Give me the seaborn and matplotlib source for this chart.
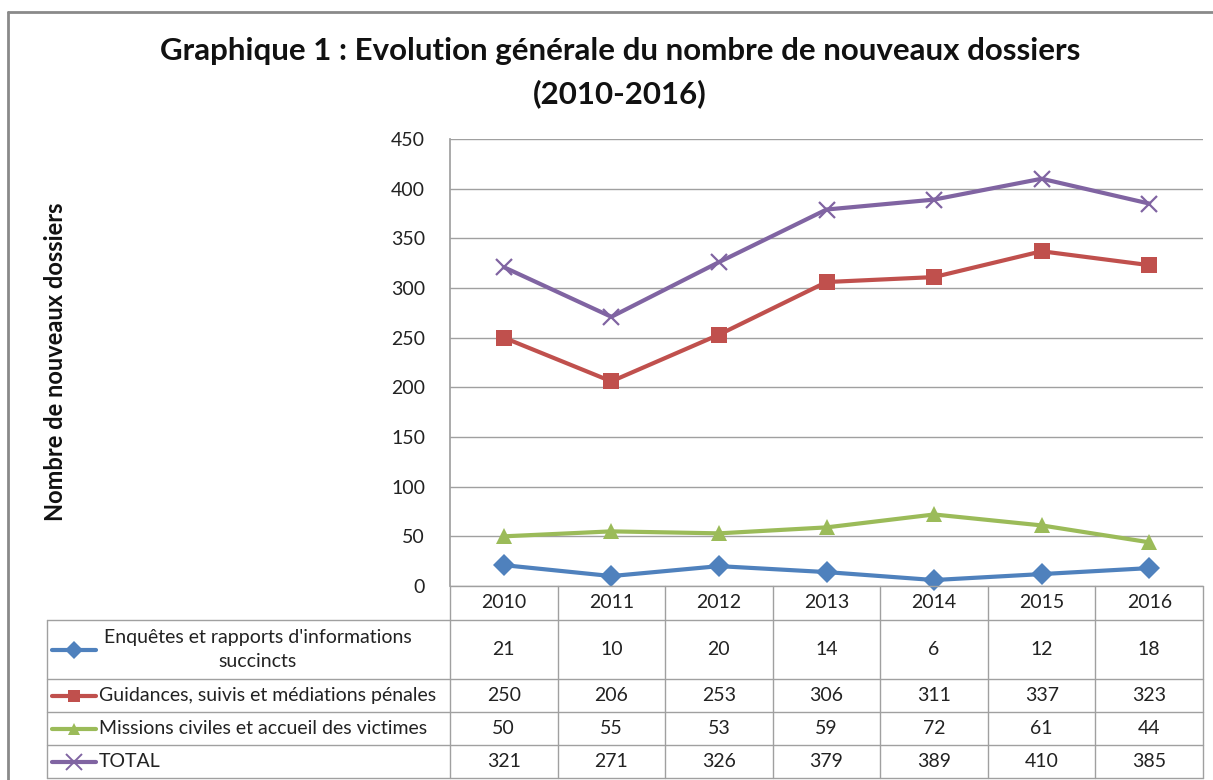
import numpy as np
import pandas as pd
import matplotlib.pyplot as plt
import seaborn as sns
from matplotlib.lines import Line2D

years = ["2010", "2011", "2012", "2013", "2014", "2015", "2016"]
enquetes = [21, 10, 20, 14, 6, 12, 18]
guidances = [250, 206, 253, 306, 311, 337, 323]
missions = [50, 55, 53, 59, 72, 61, 44]
total = [321, 271, 326, 379, 389, 410, 385]

series_names = [
    "Enquêtes et rapports d'informations\nsuccincts",
    "Guidances, suivis et médiations pénales",
    "Missions civiles et accueil des victimes",
    "TOTAL",
]
series_values = [enquetes, guidances, missions, total]
colors = ["#4F81BD", "#C0504D", "#9BBB59", "#8064A2"]
markers = ["D", "s", "^", "x"]

W, H = 1213, 780
sns.set_theme(style="white")
plt.rcParams["font.family"] = ["Lato", "DejaVu Sans"]

fig = plt.figure(figsize=(W / 100, H / 100), dpi=100)


def fx(px):
    return px / W


def fy(py):
    return 1 - py / H


left, right, top, bottom = 450, 1203, 139, 586
ax = fig.add_axes([fx(left), fy(bottom), fx(right - left), (bottom - top) / H])

for name, vals, c, m in zip(series_names, series_values, colors, markers):
    d = pd.DataFrame({"pos": range(len(years)), "value": vals})
    if m == "x":
        sns.lineplot(data=d, x="pos", y="value", color=c, marker=m, linewidth=3,
                     markersize=12, markeredgewidth=1.6, markeredgecolor=c,
                     ax=ax, clip_on=False)
    else:
        sns.lineplot(data=d, x="pos", y="value", color=c, marker=m, linewidth=3,
                     markersize=11, markeredgewidth=0, ax=ax, clip_on=False)

ax.set_xlim(-0.5, 6.5)
ax.set_ylim(0, 450)
ax.set_yticks(np.arange(0, 451, 50))
ax.set_xticks([])
ax.grid(axis="y", color="#A0A0A0", linewidth=1)
for s in ["top", "right", "bottom"]:
    ax.spines[s].set_visible(False)
ax.spines["left"].set_color("#A0A0A0")
ax.tick_params(axis="y", labelsize=14, colors="#222222", pad=18, length=0)
ax.set_xlabel("")
ax.set_ylabel("")

# titles
fig.text(fx(620), fy(51), "Graphique 1 : Evolution générale du nombre de nouveaux dossiers",
         ha="center", va="center", fontsize=22.5, fontweight="bold", color="#111111")
fig.text(fx(620), fy(94), "(2010-2016)", ha="center", va="center",
         fontsize=22.5, fontweight="bold", color="#111111")
fig.text(fx(56), fy(362), "Nombre de nouveaux dossiers", rotation=90,
         ha="center", va="center", fontsize=17, fontweight="bold", color="#111111")

# data table below the plot
gc = "#A0A0A0"
row_edges = [586, 620, 679, 712, 745, 778]
label_left = 47
colw = (right - left) / len(years)
fs = 14


def hline(x0, x1, y):
    fig.add_artist(Line2D([fx(x0), fx(x1)], [fy(y), fy(y)], color=gc, lw=1))


def vline(x, y0, y1):
    fig.add_artist(Line2D([fx(x), fx(x)], [fy(y0), fy(y1)], color=gc, lw=1))


hline(left, right, row_edges[0])
for y in row_edges[1:]:
    hline(label_left, right, y)
vline(label_left, row_edges[1], row_edges[-1])
for j in range(len(years) + 1):
    vline(left + j * colw, row_edges[0], row_edges[-1])

for j, yr in enumerate(years):
    fig.text(fx(left + (j + 0.5) * colw), fy((row_edges[0] + row_edges[1]) / 2), yr,
             ha="center", va="center", fontsize=fs, color="#222222")

for k, (name, vals) in enumerate(zip(series_names, series_values)):
    yc = (row_edges[k + 1] + row_edges[k + 2]) / 2
    fig.add_artist(Line2D([fx(52), fx(96)], [fy(yc), fy(yc)], color=colors[k], lw=3))
    is_x = markers[k] == "x"
    fig.add_artist(Line2D([fx(74)], [fy(yc)], color=colors[k], lw=0, marker=markers[k],
                          markersize=11 if is_x else 9,
                          markeredgewidth=1.4 if is_x else 0))
    if "\n" in name:
        fig.text(fx(258), fy(yc), name, ha="center", va="center", multialignment="center",
                 fontsize=fs, color="#222222", linespacing=1.45)
    else:
        fig.text(fx(99), fy(yc), name, ha="left", va="center", fontsize=fs, color="#222222")
    for j, v in enumerate(vals):
        fig.text(fx(left + (j + 0.5) * colw), fy(yc), str(v), ha="center", va="center",
                 fontsize=fs, color="#222222")

# chart border
fig.add_artist(Line2D([fx(8), fx(8)], [fy(12), 0], color="#8A8A8A", lw=2))
fig.add_artist(Line2D([fx(8), 1], [fy(12), fy(12)], color="#8A8A8A", lw=2))

fig.savefig("out.png", dpi=100, facecolor="white")
